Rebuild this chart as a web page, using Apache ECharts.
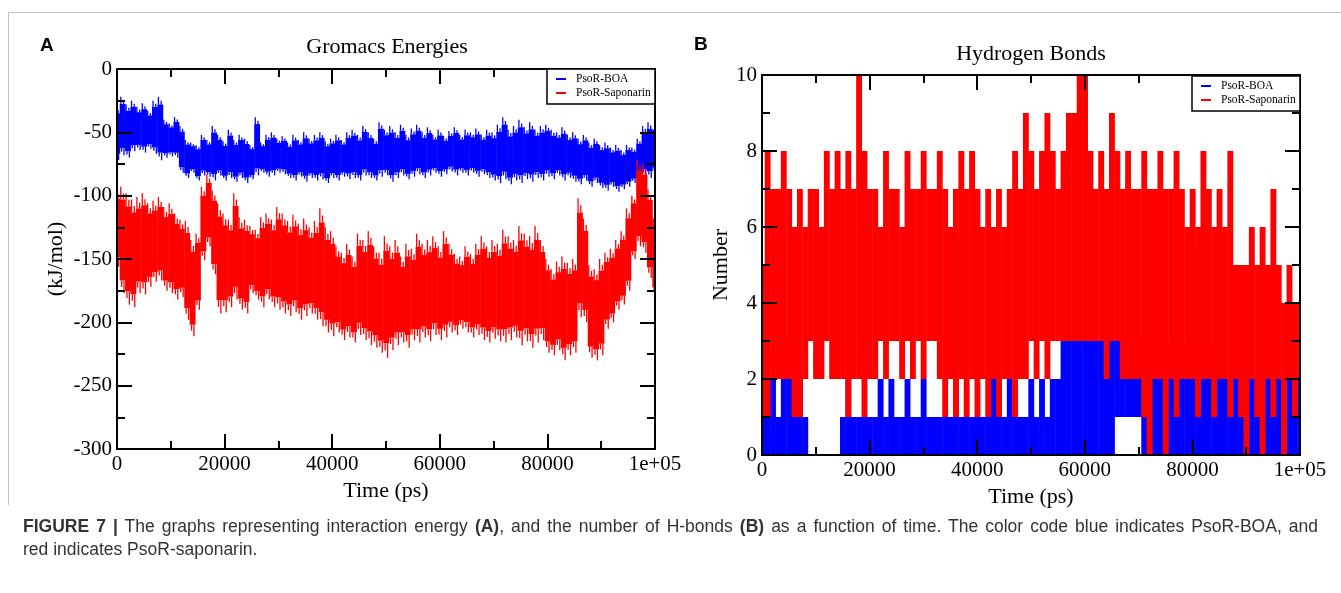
<!DOCTYPE html>
<html>
<head>
<meta charset="utf-8">
<script src="https://cdn.jsdelivr.net/npm/echarts@6/dist/echarts.min.js"></script>
<style>
  html, body { margin: 0; padding: 0; background: #fff; }
  #page { position: relative; width: 1341px; height: 593px; overflow: hidden; background: #fff; }
  #chart { position: absolute; left: 0; top: 0; width: 1341px; height: 593px; }
  .frame-top { position: absolute; left: 8px; top: 12px; right: 0; border-top: 1px solid #c4c4c4; }
  .frame-left { position: absolute; left: 8px; top: 12px; height: 493px; border-left: 1px solid #c4c4c4; }
  #caption {
    position: absolute; left: 23px; top: 515px; width: 1295px;
    font-family: "Liberation Sans", Arial, sans-serif; font-size: 17.5px; line-height: 23px;
    color: #333;
  }
  #caption .l1 { white-space: nowrap; text-align: justify; text-align-last: justify; }
</style>
</head>
<body>
<div id="page">
  <div id="chart"></div>
  <div class="frame-top"></div>
  <div class="frame-left"></div>
  <div id="caption">
    <div class="l1"><b>FIGURE 7</b> <b>|</b> The graphs representing interaction energy <b>(A)</b>, and the number of H-bonds <b>(B)</b> as a function of time. The color code blue indicates PsoR-BOA, and</div>
    <div>red indicates PsoR-saponarin.</div>
  </div>
</div>
<script>
// one bin per 1000 ps; each bin keeps the low / high extent of the trace
const TIME_STEP = 1000;
const seriesNames = ["PsoR-BOA", "PsoR-Saponarin"];
const xTickLabels = { 100000: "1e+05" };

// (A) interaction energy, kJ/mol
const energyBoaHigh = [
  -30, -22, -28, -25, -30, -27, -33, -25, -22, -40,
  -43, -38, -45, -56, -58, -60, -52, -56, -45, -52,
  -57, -48, -56, -52, -55, -60, -38, -58, -52, -50,
  -55, -53, -58, -52, -56, -50, -55, -52, -50, -57,
  -55, -52, -56, -50, -48, -52, -45, -50, -55, -42,
  -48, -45, -50, -44, -52, -47, -44, -50, -46, -52,
  -48, -53, -49, -46, -52, -48, -50, -47, -52, -48,
  -50, -44, -38, -48, -45, -40, -46, -42, -48, -45,
  -44, -48, -50, -46, -52, -50, -55, -52, -58, -55,
  -60, -58, -62, -60, -64, -60, -62, -55, -45, -42,
  -48
];
const energyBoaLow = [
  -72, -68, -70, -65, -64, -66, -63, -67, -72, -70,
  -69, -70, -82, -86, -82, -88, -84, -85, -88, -84,
  -88, -86, -89, -86, -90, -87, -84, -82, -85, -84,
  -82, -83, -86, -88, -85, -89, -86, -88, -87, -90,
  -86, -88, -85, -87, -86, -88, -84, -86, -88, -85,
  -84, -89, -86, -84, -87, -85, -83, -86, -84, -82,
  -85, -83, -81, -84, -82, -84, -82, -85, -83, -86,
  -88, -90, -87, -91, -88, -90, -87, -89, -86, -88,
  -85, -87, -84, -88, -86, -89, -91, -88, -93, -90,
  -94, -96, -93, -97, -95, -93, -90, -88, -84, -86,
  -82
];
const energySapHigh = [
  -95, -93, -98, -103, -101, -98, -106, -104, -101, -109,
  -106, -114, -119, -120, -135, -130, -93, -83, -96, -106,
  -114, -119, -98, -117, -119, -124, -127, -117, -114, -119,
  -109, -114, -120, -115, -122, -118, -125, -120, -110, -125,
  -128, -140, -145, -138, -148, -130, -135, -128, -140, -145,
  -132, -140, -135, -148, -138, -142, -130, -138, -135, -132,
  -140, -128, -138, -146, -148, -140, -146, -138, -132, -140,
  -135, -138, -127, -132, -135, -124, -130, -132, -124, -135,
  -150, -158, -152, -148, -153, -150, -102, -118, -155, -158,
  -150, -145, -142, -135, -128, -110, -100, -72, -75, -95,
  -118
];
const energySapLow = [
  -156, -177, -186, -188, -177, -178, -172, -168, -167, -175,
  -177, -182, -180, -198, -211, -190, -151, -140, -162, -193,
  -192, -188, -182, -190, -193, -177, -182, -188, -182, -188,
  -190, -193, -195, -192, -198, -195, -193, -198, -203, -208,
  -211, -208, -214, -212, -216, -210, -214, -218, -220, -224,
  -228, -222, -218, -216, -220, -214, -216, -212, -215, -210,
  -214, -212, -208, -210, -205, -208, -212, -210, -214, -216,
  -213, -215, -216, -214, -212, -218, -215, -220, -216, -214,
  -224, -226, -222, -230, -226, -224, -196, -200, -228, -230,
  -226, -205, -200, -190, -186, -175, -150, -140, -145, -165,
  -180
];

// (B) number of hydrogen bonds
const hbondBoaHigh = [
  2, 2, 2, 1, 3, 2, 1, 2, 1, 0,
  0, 0, 0, 0, 0, 1, 2, 1, 1, 1,
  1, 1, 2, 1, 2, 1, 1, 2, 1, 1,
  2, 1, 1, 1, 1, 1, 2, 1, 1, 1,
  1, 1, 1, 2, 2, 1, 2, 1, 1, 1,
  2, 1, 2, 1, 2, 2, 3, 3, 3, 3,
  3, 3, 3, 3, 3, 3, 3, 3, 3, 3,
  3, 3, 3, 3, 3, 3, 2, 3, 2, 3,
  2, 3, 2, 3, 2, 3, 2, 2, 2, 5,
  2, 2, 2, 2, 2, 2, 2, 2, 2, 1,
  2
];
const hbondBoaLow = [
  0, 0, 0, 0, 0, 0, 0, 0, 0, 0,
  0, 0, 0, 0, 0, 0, 0, 0, 0, 0,
  0, 0, 0, 0, 0, 0, 0, 0, 0, 0,
  0, 0, 0, 0, 0, 0, 0, 0, 0, 0,
  0, 0, 0, 0, 0, 0, 0, 0, 0, 0,
  0, 0, 0, 0, 0, 0, 0, 0, 0, 0,
  0, 0, 0, 0, 0, 0, 1, 1, 1, 1,
  1, 0, 0, 0, 0, 0, 0, 0, 0, 0,
  0, 0, 0, 0, 0, 0, 0, 0, 0, 0,
  0, 0, 0, 0, 0, 0, 0, 0, 0, 0,
  0
];
const hbondSapHigh = [
  5, 8, 7, 7, 8, 7, 6, 7, 6, 7,
  7, 6, 8, 7, 8, 7, 8, 7, 10, 8,
  7, 7, 6, 8, 7, 7, 6, 8, 7, 7,
  8, 7, 7, 8, 7, 6, 7, 8, 7, 8,
  7, 6, 7, 6, 7, 6, 7, 8, 7, 9,
  8, 7, 8, 9, 8, 7, 8, 9, 9, 10,
  10, 8, 7, 8, 7, 9, 8, 7, 8, 7,
  7, 8, 7, 7, 8, 7, 7, 8, 7, 6,
  7, 6, 8, 7, 6, 7, 6, 8, 5, 5,
  5, 6, 5, 6, 5, 7, 5, 4, 5, 4,
  4
];
const hbondSapLow = [
  1, 1, 2, 2, 2, 2, 1, 1, 2, 3,
  2, 2, 3, 2, 2, 2, 1, 2, 2, 1,
  2, 2, 3, 2, 3, 3, 2, 3, 2, 3,
  2, 3, 3, 2, 1, 2, 1, 2, 1, 2,
  1, 2, 1, 2, 1, 2, 2, 1, 2, 2,
  3, 2, 3, 2, 3, 3, 3, 3, 3, 3,
  3, 3, 3, 3, 2, 3, 3, 2, 2, 2,
  2, 1, 0, 2, 2, 0, 2, 1, 2, 2,
  2, 1, 2, 2, 1, 2, 2, 1, 2, 1,
  0, 2, 1, 0, 2, 1, 2, 0, 2, 1,
  2
];

const BLUE = "#0000ff";
const RED = "#ff0000";
const serif = '"Liberation Serif", "Times New Roman", serif';
const CORE_TRIM = 0.12;

function rows(low, high) {
  return low.map((lo, i) => [i * TIME_STEP, lo, high[i]]);
}

// integer counts: whole bin filled between low and high
function band(color) {
  return (params, api) => {
    const t = api.value(0);
    const a = api.coord([t - TIME_STEP / 2, api.value(2)]);
    const b = api.coord([t + TIME_STEP / 2, api.value(1)]);
    return {
      type: "rect",
      shape: { x: a[0], y: a[1], width: b[0] - a[0] + 0.5, height: Math.max(b[1] - a[1], 1) },
      style: { fill: color }
    };
  };
}

// energies: solid core with thin spikes out to the extremes
function noisyBand(color) {
  return (params, api) => {
    const t = api.value(0), lo = api.value(1), hi = api.value(2);
    const span = hi - lo;
    const coreHi = hi - span * CORE_TRIM, coreLo = lo + span * CORE_TRIM;
    const a = api.coord([t - TIME_STEP / 2, coreHi]);
    const b = api.coord([t + TIME_STEP / 2, coreLo]);
    const children = [{
      type: "rect",
      shape: { x: a[0], y: a[1], width: b[0] - a[0] + 0.5, height: b[1] - a[1] },
      style: { fill: color }
    }];
    const spikes = [
      [-0.3, coreHi, hi], [0.2, coreHi, (coreHi + hi) / 2],
      [0.3, coreLo, lo], [-0.15, coreLo, (coreLo + lo) / 2]
    ];
    spikes.forEach(([off, from, to]) => {
      const p = api.coord([t + off * TIME_STEP, from]);
      const q = api.coord([t + off * TIME_STEP, to]);
      children.push({
        type: "line",
        shape: { x1: p[0], y1: p[1], x2: q[0], y2: q[1] },
        style: { stroke: color, lineWidth: 1.3 }
      });
    });
    return { type: "group", children };
  };
}

const black = { color: "#000", width: 2 };
const noLabel = { show: false };

function xAxis(gridIndex, position, interval, tickLen, main) {
  return {
    type: "value", gridIndex, position, min: 0, max: 100000, interval,
    z: 10,
    axisLine: { show: tickLen > 8, onZero: false, lineStyle: black },
    axisTick: { inside: true, length: tickLen, lineStyle: black },
    splitLine: { show: false },
    axisLabel: main ? {
      margin: 5, color: "#000", fontFamily: serif, fontSize: 21,
      formatter: (v) => xTickLabels[v] || String(v)
    } : noLabel,
    name: main ? "Time (ps)" : "", nameLocation: "middle", nameGap: 26,
    nameTextStyle: { color: "#000", fontFamily: serif, fontSize: 22 }
  };
}
function yAxis(gridIndex, position, min, max, interval, tickLen, name, nameGap) {
  const main = !!name;
  return {
    type: "value", gridIndex, position, min, max, interval,
    z: 10,
    axisLine: { show: tickLen > 8, onZero: false, lineStyle: black },
    axisTick: { inside: true, length: tickLen, lineStyle: black },
    splitLine: { show: false },
    axisLabel: main ? { margin: 5, color: "#000", fontFamily: serif, fontSize: 21 } : noLabel,
    name: main ? name : "", nameLocation: "middle", nameGap,
    nameTextStyle: { color: "#000", fontFamily: serif, fontSize: 22 }
  };
}

function legendBox(x, y) {
  const els = [{
    type: "rect", shape: { x, y, width: 108, height: 35 },
    style: { fill: "#fff", stroke: "#000", lineWidth: 1.5 }, z: 20
  }];
  [BLUE, RED].forEach((c, i) => {
    const ly = y + 10 + i * 14;
    els.push({ type: "line", shape: { x1: x + 9, y1: ly, x2: x + 19, y2: ly }, style: { stroke: c, lineWidth: 2 }, z: 21 });
    els.push({
      type: "text", x: x + 29, y: ly, z: 21,
      style: { text: seriesNames[i], fill: "#000", font: "11.5px " + serif, textVerticalAlign: "middle" }
    });
  });
  return els;
}

const gridA = { left: 117, top: 69, width: 538, height: 380 };
const gridB = { left: 762, top: 75, width: 538, height: 380 };

const chart = echarts.init(document.getElementById("chart"), null, { renderer: "canvas" });
chart.setOption({
  animation: false,
  backgroundColor: "transparent",
  // grids 2 and 3 sit on top of 0 and 1 and only carry the short minor ticks
  grid: [gridA, gridB, gridA, gridB],
  xAxis: [
    xAxis(0, "bottom", 20000, 15, true), xAxis(0, "top", 20000, 15, false),
    xAxis(1, "bottom", 20000, 15, true), xAxis(1, "top", 20000, 15, false),
    xAxis(2, "bottom", 10000, 8, false), xAxis(2, "top", 10000, 8, false),
    xAxis(3, "bottom", 10000, 8, false), xAxis(3, "top", 10000, 8, false)
  ],
  yAxis: [
    yAxis(0, "left", -300, 0, 50, 15, "(kJ/mol)", 50), yAxis(0, "right", -300, 0, 50, 15),
    yAxis(1, "left", 0, 10, 2, 15, "Number", 28), yAxis(1, "right", 0, 10, 2, 15),
    yAxis(2, "left", -300, 0, 25, 8), yAxis(2, "right", -300, 0, 25, 8),
    yAxis(3, "left", 0, 10, 1, 8), yAxis(3, "right", 0, 10, 1, 8)
  ],
  series: [
    { name: seriesNames[0], type: "custom", xAxisIndex: 0, yAxisIndex: 0, clip: true,
      encode: { x: 0, y: [1, 2] }, data: rows(energyBoaLow, energyBoaHigh), renderItem: noisyBand(BLUE) },
    { name: seriesNames[1], type: "custom", xAxisIndex: 0, yAxisIndex: 0, clip: true,
      encode: { x: 0, y: [1, 2] }, data: rows(energySapLow, energySapHigh), renderItem: noisyBand(RED) },
    { name: seriesNames[0], type: "custom", xAxisIndex: 2, yAxisIndex: 2, clip: true,
      encode: { x: 0, y: [1, 2] }, data: rows(hbondBoaLow, hbondBoaHigh), renderItem: band(BLUE) },
    { name: seriesNames[1], type: "custom", xAxisIndex: 2, yAxisIndex: 2, clip: true,
      encode: { x: 0, y: [1, 2] }, data: rows(hbondSapLow, hbondSapHigh), renderItem: band(RED) }
  ],
  graphic: [
    { type: "text", x: 40, y: 46, style: { text: "A", fill: "#000", font: "bold 19px 'Liberation Sans', Arial, sans-serif", textVerticalAlign: "middle" } },
    { type: "text", x: 694, y: 45, style: { text: "B", fill: "#000", font: "bold 19px 'Liberation Sans', Arial, sans-serif", textVerticalAlign: "middle" } },
    { type: "text", x: 387, y: 47, style: { text: "Gromacs Energies", fill: "#000", font: "22px " + serif, textAlign: "center", textVerticalAlign: "middle" } },
    { type: "text", x: 1031, y: 54, style: { text: "Hydrogen Bonds", fill: "#000", font: "22px " + serif, textAlign: "center", textVerticalAlign: "middle" } },
    ...legendBox(547, 69),
    ...legendBox(1192, 76)
  ]
});
</script>
</body>
</html>
